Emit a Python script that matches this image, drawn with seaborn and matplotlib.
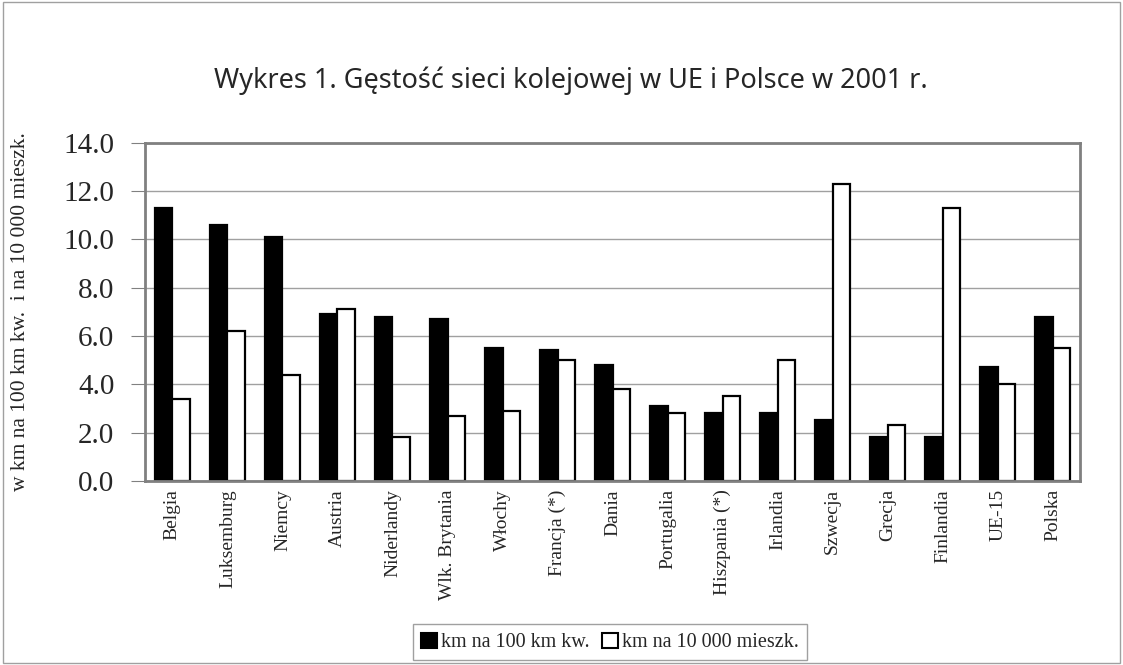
import pandas as pd
import numpy as np
import matplotlib.pyplot as plt
import seaborn as sns
from matplotlib.patches import Rectangle

# Data
countries = ['Belgia', 'Luksemburg', 'Niemcy', 'Austria', 'Niderlandy', 'Wlk. Brytania',
             'Włochy', 'Francja (*)', 'Dania', 'Portugalia', 'Hiszpania (*)', 'Irlandia',
             'Szwecja', 'Grecja', 'Finlandia', 'UE-15', 'Polska']
per_area = [11.3, 10.6, 10.1, 6.9, 6.8, 6.7, 5.5, 5.4, 4.8, 3.1, 2.8, 2.8, 2.5, 1.8, 1.8, 4.7, 6.8]
per_pop = [3.4, 6.2, 4.4, 7.1, 1.8, 2.7, 2.9, 5.0, 3.8, 2.8, 3.5, 5.0, 12.3, 2.3, 11.3, 4.0, 5.5]
series = ['km na 100 km kw.', 'km na 10 000 mieszk.']

df = pd.DataFrame({
    'kraj': countries * 2,
    'seria': [series[0]] * len(countries) + [series[1]] * len(countries),
    'wartosc': per_area + per_pop,
})

sns.set_style('white')
serif = ['Liberation Serif', 'DejaVu Serif']
plt.rcParams['font.family'] = serif

fig = plt.figure(figsize=(11.23, 6.65), dpi=100)
ax = fig.add_axes([0.129, 0.277, 0.833, 0.508])

sns.barplot(data=df, x='kraj', y='wartosc', hue='seria', order=countries,
            palette={series[0]: 'black', series[1]: 'white'},
            edgecolor='black', linewidth=1.6, width=0.64, ax=ax, legend=False)

ax.set_ylim(0, 14)
ax.set_xlim(-0.5, len(countries) - 0.5)
ax.set_yticks(np.arange(0, 14.1, 2))
ax.set_yticklabels([f'{v:.1f}' for v in np.arange(0, 14.1, 2)], fontsize=21)
ax.set_xticks(range(len(countries)))
ax.set_xticklabels(countries, rotation=90, fontsize=14)
ax.set_xticks(np.arange(-0.5, len(countries), 1), minor=True)
ax.tick_params(axis='x', which='major', length=0, pad=6)
ax.tick_params(axis='x', which='minor', length=6, color='#808080', direction='out')
ax.tick_params(axis='y', length=10, color='#808080', direction='out', pad=12, left=True)
ax.yaxis.grid(True, color='#a0a0a0', linewidth=1)
ax.set_axisbelow(True)
for s in ax.spines.values():
    s.set_color('#808080')
    s.set_linewidth(2)

ax.set_xlabel('')
ax.set_ylabel('w km na 100 km kw.  i na 10 000 mieszk.', fontsize=15.5, labelpad=24)

fig.text(0.508, 0.878, 'Wykres 1. Gęstość sieci kolejowej w UE i Polsce w 2001 r.',
         ha='center', va='center', fontsize=19.5, family=['Noto Sans', 'DejaVu Sans'])

handles = [Rectangle((0, 0), 1, 1, facecolor='black', edgecolor='black', linewidth=1.5),
           Rectangle((0, 0), 1, 1, facecolor='white', edgecolor='black', linewidth=1.5)]
leg = fig.legend(handles, series, loc='center', bbox_to_anchor=(0.543, 0.034), ncol=2,
                 fontsize=14.5, frameon=True, fancybox=False, edgecolor='#a0a0a0',
                 handlelength=0.8, handleheight=0.8, handletextpad=0.2, columnspacing=0.6,
                 borderpad=0.4, framealpha=1)
leg.get_frame().set_linewidth(1)

fig.patches.append(Rectangle((0.003, 0.003), 0.994, 0.994, transform=fig.transFigure,
                             fill=False, edgecolor='#a0a0a0', linewidth=1))

fig.savefig('out.png', dpi=100)
